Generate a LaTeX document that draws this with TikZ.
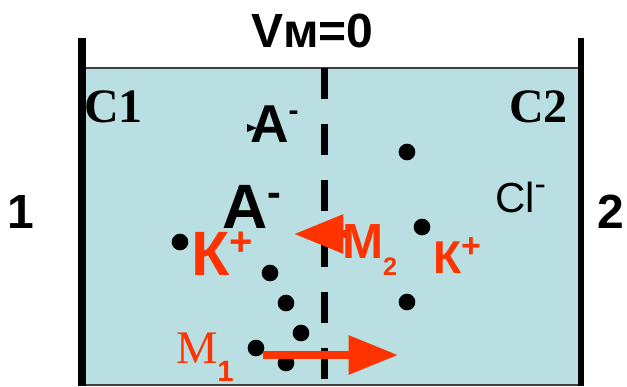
\documentclass[tikz,border=0pt]{standalone}
\usepackage{fontspec}
\setmainfont{Liberation Sans}
\newfontfamily\timesfont{Liberation Serif}
\usepackage{xcolor}
\definecolor{cell-bg}{HTML}{B9DFE3}
\definecolor{ion-red}{HTML}{FF3300}
\usetikzlibrary{arrows.meta}
\newcommand{\fsz}[1]{\fontsize{#1}{#1}\selectfont}
% shifted small text: #1 raise, #2 size in pt, #3 text
\newcommand{\shifted}[3]{\raisebox{#1}{\fsz{#2}#3}}

\begin{document}
\begin{tikzpicture}[x=0.75pt, y=-0.75pt,
    every node/.style={inner sep=0pt, outer sep=0pt},
    ion/.style={circle, fill=black, minimum size=12.5pt},
    flux/.style={ion-red, line width=6pt, -{Triangle[length=37pt, width=28pt]}}]
    % Two-compartment cell, units are pixels of a 627x386 canvas (y down).
    %   solution from (82,68) to (581,385), walls at x=82 and x=581
    %   dashed membrane at x=324.5
    %   M1 flux left->right at y=355, M2 flux right->left at y=234
    \useasboundingbox (0,0) rectangle (627,386);
    \draw[draw=black!75, line width=1pt, fill=cell-bg] (82,68) rectangle (581,385);
    \draw[line width=6pt] (82,38) -- (82,386);
    \draw[line width=5pt] (581,38) -- (581,386);
    \draw[line width=5.3pt, dash pattern=on 23.25pt off 18.75pt] (324.5,68) -- (324.5,380);

    \node[anchor=base west, font=\fsz{36}\bfseries] (vm) at (251,47) {Vм=0};
    \node[anchor=base, font=\fsz{36}\bfseries] (side1) at (21,228) {1};
    \node[anchor=base, font=\fsz{36}\bfseries] (side2) at (611,228) {2};
    \node[anchor=base west, font=\fsz{36}\timesfont\bfseries] (c1) at (84,122) {C1};
    \node[anchor=base west, font=\fsz{36}\timesfont\bfseries] (c2) at (509,122) {C2};

    % anions and chloride
    \node[anchor=base west, font=\fsz{40}\bfseries] (anion1) at (250,142)
        {A\shifted{16pt}{22.5}{-}};
    \fill (247,124) -- (257,128) -- (247,132) -- cycle;
    \node[anchor=base west, font=\fsz{47}\bfseries] (anion2) at (222,228)
        {A\shifted{16.5pt}{31}{-}};
    \node[anchor=base west, font=\fsz{31.5}] (cl) at (495,212)
        {Cl\shifted{12.4pt}{25.5}{-}};

    % potassium
    \node[anchor=base west, font=\fsz{47}\bfseries, text=ion-red] (kleft) at (191,275)
        {К\shifted{15pt}{30}{+}};
    \node[anchor=base west, font=\fsz{34.5}\bfseries, text=ion-red] (kright) at (433,273)
        {К\shifted{11.6pt}{25.5}{+}};

    % ions as dots
    \node[ion] (d1) at (180,242) {};
    \node[ion] (d2) at (270,273) {};
    \node[ion] (d3) at (286,303) {};
    \node[ion] (d4) at (301,333) {};
    \node[ion] (d5) at (256,348) {};
    \node[ion] (d6) at (286,363) {};
    \node[ion] (d7) at (407,152) {};
    \node[ion] (d8) at (422,227) {};
    \node[ion] (d9) at (407,302) {};

    % fluxes
    \node[anchor=base west, font=\fsz{37}\bfseries, text=ion-red] (m2) at (342,258)
        {М\shifted{-0.35em}{19}{2}};
    \coordinate (m2tip) at (294,234);
    \draw[flux] (m2.west |- m2tip) ++(6,0) -- (m2tip);
    \node[anchor=base west, font=\fsz{35}\timesfont, text=ion-red] (m1) at (176,363)
        {М\shifted{-0.4em}{22}{\rmfamily\bfseries 1}};
    \coordinate (m1start) at (263,355);
    \coordinate (m1tip) at (398,355);
    \draw[flux] (m1start) -- (m1tip);
\end{tikzpicture}
\end{document}
